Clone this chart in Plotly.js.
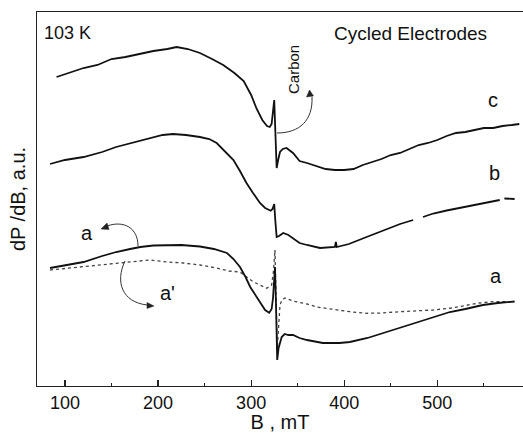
<!DOCTYPE html>
<html><head><meta charset="utf-8">
<script src="https://cdn.plot.ly/plotly-3.0.1.min.js"></script>
<style>html,body{margin:0;padding:0;background:#fff}#chart{width:523px;height:433px}</style>
</head><body><div id="chart"></div>
<script>
// Curve c
const cB = [91,105,120,135,150,165,180,195,210,220,232,245,258,270,282,292,300,306,312,317,320,322,324.8,326,327.4,329,331,334,338,345,352,360,370,380,390,400,410,420,430,440,450,460,470,480,490,500,510,520,530,540,550,560,570,580,588];
const cY = [309,313,318,321,327,329,332,335,337,339,337,333,327,321,313,305,291,277,266,260,259,262,286,250,218,226,234,237,238,233,225,223,220,217,216,216,217,221,224,227,231,233,237,241,243,246,250,253,254,256,258,258,260,261,262];
// Curve b (gaps as null)
const bB = [84,100,120,140,155,175,191,205,216,230,245,255,263,272,281,288,295,302,309.5,315,319,321,323,324.8,326,327.4,330,334.5,340,345,352,360,374,390,391,392,405,424,440,460,474,479,484.6,495.6,510,531.5,550,567,569,572,583];
const bY = [222,226,229,234,239,244,248,251,252,251,249,247,243,235,226,215,203,193,183,178,176,175.3,177,182,165,149,150,153,151,148,143,141,138,139,144,139,142,149,155,162,166,null,169,172.5,175.5,179.5,183,186,null,187.5,187];
// Curve a (solid)
const aB = [84,100,120,140,155,170,181,195,209,225,245,260,274,281,288,294,299,305,309.5,315,319.4,322,323.5,325.6,326.6,328,329.5,332.8,336,340,345,352,360,377,395,406,425,442,460,478,495,513.5,530,549,565,583];
const aY = [118,121,124,130,134,137,139,140.5,141,141,139.5,137,133,127,119,109,99,90,83,76,73.3,77,88,119,86,26,38,49,52,51,51,48,46,43,43,44,48,53,59,64,69,74,77,81,83,84.5];
// Curve a' (dotted)
const apB = [84,100,120,140,155,175,191,210,227,245,263,276,288,302,310,316.7,322,324,325.6,326.5,327.2,328,329,331,333,336.3,345,350.6,360,370.5,385,406,424,440,460,478,495.6,515,531.5,545,560,583];
const apY = [116,117.5,119,121,123,124.5,126,124,123,121,118,115,114,104.3,101,97.7,101,115,136,110,70,37,52,81,86,88,85,84,82,79,77,74.3,72.7,73,74.3,75,76,78,81,83,84.3,84.3];

const xTicks = [100,200,300,400,500];
const xTickText = ['100','200','300','400','500'];

const px2x = px => 70 + (px - 37) * 522 / 486;
const py2y = py => 386 - py;
const P = (px,py) => px2x(px) + ',' + py2y(py);
const tri = (a,b,c) => 'M' + P(a[0],a[1]) + ' L' + P(b[0],b[1]) + ' L' + P(c[0],c[1]) + ' Z';

const lineCol = '#111';
const traces = [
  {x:cB, y:cY, mode:'lines', line:{color:lineCol, width:1.8}, hoverinfo:'skip'},
  {x:bB, y:bY, mode:'lines', line:{color:lineCol, width:1.8}, connectgaps:false, hoverinfo:'skip'},
  {x:apB, y:apY, mode:'lines', line:{color:'#444', width:1.3, dash:'dot'}, hoverinfo:'skip'},
  {x:aB, y:aY, mode:'lines', line:{color:lineCol, width:1.8}, hoverinfo:'skip'}
];

const F = 'Liberation Sans, Arial, Helvetica, sans-serif';
const ann = (px,py,text,size,extra) => Object.assign({x:px2x(px), y:py2y(py), xref:'x', yref:'y', text:text, showarrow:false, font:{family:F, size:size, color:'#111'}}, extra||{});

const layout = {
  width:523, height:433,
  margin:{l:37, r:0, t:12, b:47},
  paper_bgcolor:'#fff', plot_bgcolor:'#fff',
  showlegend:false,
  font:{family:F, color:'#111'},
  xaxis:{range:[70,592], showgrid:false, zeroline:false, showline:true, linecolor:'#222', linewidth:1.3, mirror:true,
         ticks:'inside', ticklen:6, tickwidth:1.2, tickcolor:'#222', tickvals:xTicks, ticktext:xTickText,
         tickfont:{family:F, size:18, color:'#111'},
         minor:{tickvals:[150,250,350,450,550], ticks:'inside', ticklen:3, tickwidth:1, tickcolor:'#222'},
         title:{text:'B , mT', font:{family:F, size:20, color:'#111'}, standoff:5}},
  yaxis:{range:[0,374], showgrid:false, zeroline:false, showline:true, linecolor:'#222', linewidth:1.3,
         ticks:'', showticklabels:false,
         title:{text:'dP /dB, a.u.', font:{family:F, size:20, color:'#111'}, standoff:4}},
  annotations:[
    ann(42,33,'103 K',18,{xanchor:'left'}),
    ann(410,33,'Cycled Electrodes',19),
    ann(293,70,'Carbon',15,{textangle:-90}),
    ann(493,100,'c',20),
    ann(494,173,'b',20),
    ann(495.5,276,'a',20),
    ann(87,233,'a',20),
    ann(167,293,"a'",20)
  ],
  shapes:[
    {type:'path', xref:'x', yref:'y', path:'M'+P(277,133)+' C'+P(300,133)+' '+P(313,120)+' '+P(312,97), line:{color:'#333', width:1}},
    {type:'path', xref:'x', yref:'y', path:tri([309.5,90],[306.5,97],[313.5,96]), fillcolor:'#222', line:{color:'#222', width:0.5}},
    {type:'path', xref:'x', yref:'y', path:'M'+P(138,246)+' C'+P(138,228)+' '+P(124,220)+' '+P(107,226), line:{color:'#333', width:1}},
    {type:'path', xref:'x', yref:'y', path:tri([101,229],[107,223],[109,229.5]), fillcolor:'#222', line:{color:'#222', width:0.5}},
    {type:'path', xref:'x', yref:'y', path:'M'+P(125,261)+' C'+P(115,282)+' '+P(122,302)+' '+P(147,305), line:{color:'#333', width:1}},
    {type:'path', xref:'x', yref:'y', path:tri([154,306],[147,302.5],[147,308.5]), fillcolor:'#222', line:{color:'#222', width:0.5}}
  ]
};
Plotly.newPlot('chart', traces, layout, {staticPlot:true, displayModeBar:false});
</script></body></html>
